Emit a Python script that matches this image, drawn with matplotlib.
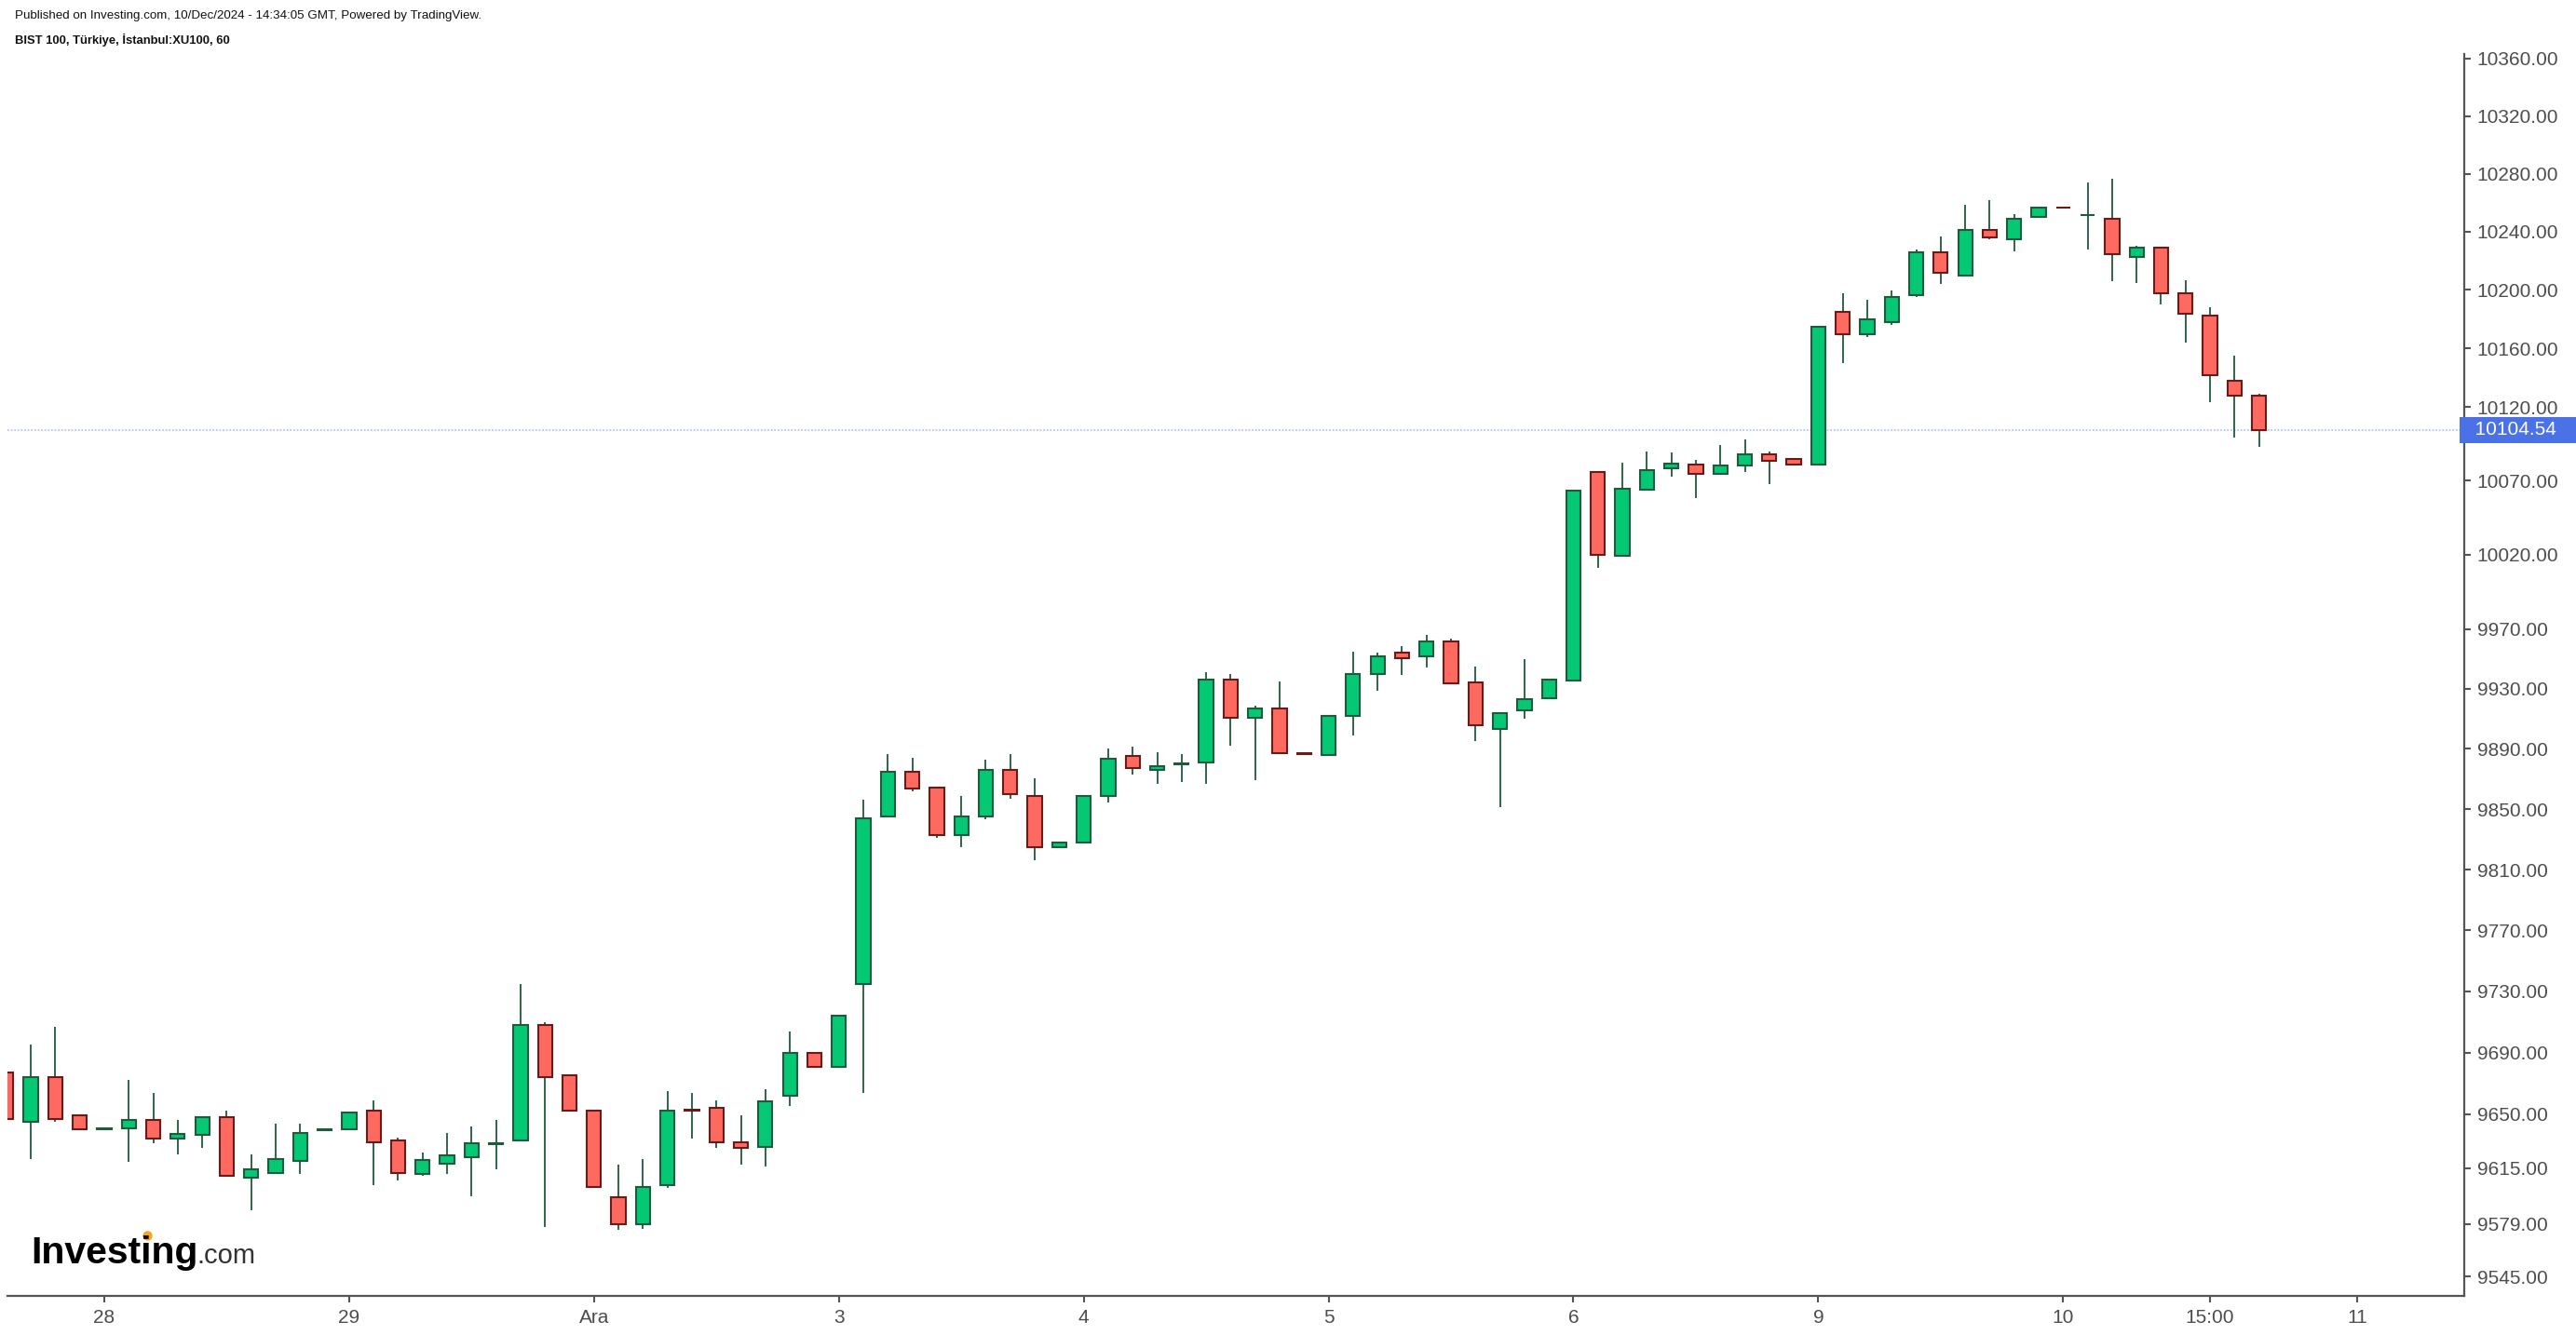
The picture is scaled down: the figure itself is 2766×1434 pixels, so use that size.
import matplotlib
matplotlib.use("Agg")
import matplotlib.pyplot as plt
import matplotlib.transforms as mtransforms
from matplotlib.ticker import FixedLocator, NullLocator, FuncFormatter

plt.rcParams['font.family'] = ['Liberation Sans', 'DejaVu Sans']

# hourly OHLC, BIST 100 (27 Nov 15:00 -> 10 Dec 17:00)
opens = [9677, 9645, 9674, 9649, 9640, 9641, 9646, 9634, 9636.5, 9648,
         9609, 9612, 9619.5, 9639.5, 9640, 9652, 9633, 9611, 9618, 9622,
         9630.5, 9633, 9708, 9675, 9652, 9596, 9579, 9604, 9652.6, 9654,
         9632, 9629, 9662, 9690, 9681, 9735, 9845, 9875, 9864, 9833,
         9845, 9876, 9859, 9825, 9828, 9858.5, 9885, 9876, 9880, 9881,
         9936, 9910.5, 9917, 9887, 9886, 9912, 9940, 9954.5, 9951.6, 9962,
         9934.5, 9903, 9915.5, 9924, 9935.5, 10076, 10019, 10064, 10078.5, 10081,
         10074.7, 10080, 10088, 10085, 10081, 10185, 10169.5, 10178, 10196.7, 10226,
         10210, 10241.4, 10234.6, 10250, 10257, 10251.5, 10249, 10223, 10229, 10198,
         10182.6, 10138, 10128]
highs = [9677, 9695, 9707, 9649, 9641, 9672, 9664, 9646, 9648, 9652,
         9624, 9644, 9644, 9640, 9651, 9659, 9635, 9625, 9638, 9642,
         9646, 9735, 9710, 9675, 9652, 9617, 9621, 9665, 9664, 9659,
         9649, 9666, 9704, 9690, 9714, 9856, 9886.5, 9884, 9865, 9859,
         9883, 9886.5, 9870.5, 9828.5, 9859, 9890, 9891.5, 9888, 9886.5, 9941,
         9940, 9919, 9935, 9887, 9912, 9955, 9954, 9958.6, 9966, 9963.6,
         9945, 9913.5, 9950, 9936, 10063.4, 10076, 10082, 10090, 10089, 10084,
         10094, 10098, 10090, 10085, 10175, 10198, 10193, 10199.5, 10227.6, 10236.7,
         10258.6, 10262, 10252, 10257, 10257, 10274, 10276.5, 10230.5, 10229, 10207,
         10188, 10155, 10129]
lows = [9647, 9621, 9645, 9640, 9640, 9619, 9631, 9624, 9628, 9610,
        9588, 9611, 9611, 9639.5, 9640, 9604, 9607, 9610, 9611, 9597,
        9614, 9633, 9577, 9652, 9603, 9575, 9576, 9602, 9634, 9628,
        9617, 9616, 9655.5, 9681, 9681, 9664, 9845, 9862, 9831, 9825,
        9843.5, 9857, 9816, 9824.5, 9828, 9854.6, 9873, 9867, 9868, 9867,
        9892, 9869, 9887, 9886.5, 9886, 9899, 9929, 9939, 9944, 9934,
        9895, 9851, 9910, 9924, 9935.5, 10011, 10019, 10064, 10073, 10058,
        10074.7, 10076, 10067.6, 10081, 10081, 10150, 10168, 10176, 10195, 10204,
        10210, 10234.6, 10226.7, 10250, 10256.5, 10228, 10206, 10205, 10190, 10164,
        10123.5, 10099, 10093]
closes = [9647, 9674, 9647, 9640, 9641, 9646, 9634, 9637, 9648, 9610,
          9614, 9621, 9638, 9640, 9651, 9632, 9612, 9620, 9623.5, 9631,
          9631, 9708, 9674, 9652, 9603, 9579, 9603, 9652, 9652.3, 9632,
          9628, 9658.5, 9690, 9681, 9714, 9844, 9875, 9863.5, 9833, 9845,
          9876, 9860, 9825, 9828, 9859, 9883.6, 9877, 9878.7, 9880.5, 9936,
          9910.5, 9917, 9887, 9886.5, 9912, 9940, 9952, 9950.4, 9962, 9934,
          9905.5, 9913.5, 9923, 9936, 10063.4, 10020, 10064.6, 10077, 10081.4, 10074.7,
          10080, 10088, 10083.6, 10081, 10175, 10169.5, 10180, 10195, 10226, 10211.6,
          10241.4, 10236, 10249, 10257, 10256.5, 10251.8, 10224.4, 10229, 10198, 10183.5,
          10141.6, 10127.7, 10104.54]

last_price = 10104.54
y_ticks = [9545, 9579, 9615, 9650, 9690, 9730, 9770, 9810, 9850, 9890, 9930,
           9970, 10020, 10070, 10120, 10160, 10200, 10240, 10280, 10320, 10360]
x_tick_pos = [4, 14, 24, 34, 44, 54, 64, 74, 84, 90, 96]
x_tick_labels = ['28', '29', 'Ara', '3', '4', '5', '6', '9', '10', '15:00', '11']

up_fill = '#04c874'
down_fill = '#ff6a60'
up_edge = '#1e5b3c'
down_edge = '#6b1a1a'
wick_col = '#1e5b3c'
axis_col = '#555555'

W, H = 2766, 1434
fig = plt.figure(figsize=(W / 100, H / 100), dpi=100)
ax = fig.add_axes([8.3 / W, 1 - 1391.7 / H, (2645.7 - 8.3) / W, (1391.7 - 58) / H])

ax.set_yscale('log')
ax.set_ylim(9532.9, 10363.2)
ax.set_xlim(0.056, 100.37)

# current price line
ax.axhline(last_price, color='#b9c5ee', ls=(0, (1, 1)), lw=1.3, zorder=0)

xs = list(range(len(opens)))
ax.vlines(xs, lows, highs, color=wick_col, lw=1.3, zorder=1)
for x, o, c in zip(xs, opens, closes):
    up = c >= o
    ax.bar(x, abs(c - o), bottom=min(o, c), width=0.58,
           color=up_fill if up else down_fill,
           edgecolor=up_edge if up else down_edge,
           linewidth=1.5, zorder=2)

# axes styling
for s in ['top', 'left']:
    ax.spines[s].set_visible(False)
for s in ['right', 'bottom']:
    ax.spines[s].set_color(axis_col)
    ax.spines[s].set_linewidth(1.6)

ax.yaxis.tick_right()
ax.yaxis.set_major_locator(FixedLocator(y_ticks))
ax.yaxis.set_minor_locator(NullLocator())
ax.yaxis.set_major_formatter(FuncFormatter(lambda v, p: '%.2f' % v))
ax.set_xticks(x_tick_pos)
ax.set_xticklabels(x_tick_labels)
ax.tick_params(axis='both', colors=axis_col, labelcolor='#4d4d4d',
               labelsize=15, length=5, width=1.5, pad=5)

# last price tag
tr = mtransforms.blended_transform_factory(ax.transAxes, ax.transData)
ax.text(1.0, last_price, '  10104.54   ', transform=tr, ha='left', va='center',
        fontsize=15, color='white', clip_on=False, zorder=10,
        bbox=dict(boxstyle='square,pad=0.22', fc='#4a72e6', ec='none'))

# header
fig.text(16 / W, 1 - 16.7 / H,
         'Published on Investing.com, 10/Dec/2024 - 14:34:05 GMT, Powered by TradingView.',
         fontsize=9.6, va='center', color='#111111')
fig.text(16 / W, 1 - 43 / H, 'BIST 100, Türkiye, İstanbul:XU100, 60',
         fontsize=9.4, va='center', weight='bold', color='#111111')

# watermark
fig.text(33 / W, 1 - 1356.7 / H, 'Investing', fontsize=29.5, weight='bold',
         va='baseline', color='black')
fig.text(211 / W, 1 - 1356.7 / H, '.com', fontsize=21, va='baseline', color='#333333')
fig.add_artist(plt.Line2D([158 / W], [1 - 1327 / H], marker='o', ms=6.5,
                          color='#f5a623', transform=fig.transFigure))

fig.savefig('out.png', dpi=100)
